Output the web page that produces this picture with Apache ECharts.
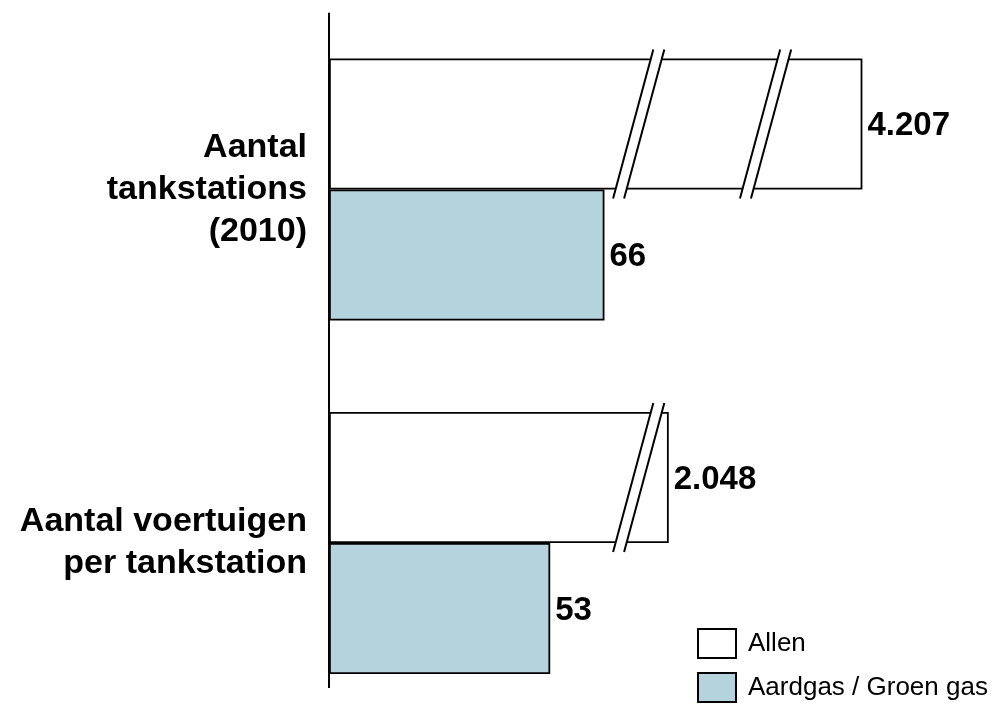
<!DOCTYPE html>
<html>
<head>
<meta charset="utf-8">
<title>Tankstations</title>
<script src="https://cdn.jsdelivr.net/npm/echarts@6/dist/echarts.min.js"></script>
<style>
  html, body { margin: 0; padding: 0; background: #fff; }
  #chart { width: 992px; height: 715px; }
</style>
</head>
<body>
<div id="chart"></div>
<script>
// Categories (top to bottom)
const categories = ['Aantal\ntankstations\n(2010)', 'Aantal voertuigen\nper tankstation'];
// Series
const seriesNames = ['Allen', 'Aardgas / Groen gas'];
const allenValues = [4207, 2048];
const aardgasValues = [66, 53];
// Value-axis breaks (the long bars are cut)
const axisBreaks = [
  { start: 73, end: 2042 },
  { start: 2070, end: 4185 }
];
const axisMax = 4217;

// Layout
const GRID_LEFT = 329;
const GRID_TOP = 12.75;
const GRID_HEIGHT = 707;
const PX_PER_UNIT = 4.174;
const BREAK_GAP_PX = 10;
const BAR_W = 131;
const AXIS_BOTTOM = 688;
const FONT = 'Liberation Sans, Arial, Helvetica, sans-serif';

// Slash marks across the broken bars
const SLASH_SLOPE = 0.27;
const SLASH_OVERHANG = 9;
const SLASH_SEP = 11;

const gapUnits = BREAK_GAP_PX / PX_PER_UNIT;
let spanUnits = axisMax;
axisBreaks.forEach(b => { spanUnits -= (b.end - b.start); spanUnits += gapUnits; });
const GRID_WIDTH = spanUnits * PX_PER_UNIT;

function fmt(v) {
  return String(v).replace(/\B(?=(\d{3})+(?!\d))/g, '.');
}

const chart = echarts.init(document.getElementById('chart'));

const valueLabel = {
  show: true,
  position: 'right',
  distance: 5,
  offset: [0, 2],
  fontSize: 33,
  fontWeight: 'bold',
  fontFamily: FONT,
  color: '#000',
  formatter: p => fmt(p.value)
};

chart.setOption({
  animation: false,
  backgroundColor: '#fff',
  grid: {
    left: GRID_LEFT, top: GRID_TOP, width: GRID_WIDTH, height: GRID_HEIGHT,
    outerBoundsMode: 'none'
  },
  legend: {
    orient: 'vertical',
    left: 697,
    top: 628,
    padding: 0,
    itemWidth: 38,
    itemHeight: 29,
    itemGap: 13,
    icon: 'rect',
    data: seriesNames,
    textStyle: { fontSize: 26, lineHeight: 29, fontFamily: FONT, color: '#000', padding: [0, 0, 0, 7] }
  },
  xAxis: {
    type: 'value',
    min: 0,
    max: axisMax,
    breaks: axisBreaks.map(b => ({ start: b.start, end: b.end, gap: gapUnits })),
    breakArea: { show: false },
    axisLine: { show: false },
    axisTick: { show: false },
    axisLabel: { show: false },
    splitLine: { show: false }
  },
  yAxis: {
    type: 'category',
    inverse: true,
    data: categories,
    axisLine: { show: false },
    axisTick: { show: false },
    axisLabel: {
      margin: 22,
      fontSize: 34,
      lineHeight: 42,
      fontWeight: 'bold',
      fontFamily: FONT,
      color: '#000'
    }
  },
  graphic: [{
    type: 'line',
    z: 100,
    shape: { x1: GRID_LEFT, y1: GRID_TOP, x2: GRID_LEFT, y2: AXIS_BOTTOM },
    style: { stroke: '#000', lineWidth: 2 }
  }],
  series: [
    {
      name: seriesNames[0],
      type: 'bar',
      barWidth: BAR_W,
      barGap: '0%',
      data: allenValues,
      itemStyle: { color: '#ffffff', borderColor: '#000', borderWidth: 1.8 },
      label: valueLabel
    },
    {
      name: seriesNames[1],
      type: 'bar',
      barWidth: BAR_W,
      barGap: '0%',
      data: aardgasValues,
      itemStyle: { color: '#b4d3dd', borderColor: '#000', borderWidth: 1.8 },
      label: valueLabel
    },
    {
      name: 'breaks',
      type: 'custom',
      z: 5,
      silent: true,
      data: allenValues.map((v, i) => [v, i]),
      encode: { x: 0, y: 1 },
      renderItem: (params, api) => {
        const val = api.value(0);
        const cat = api.value(1);
        const center = api.coord([0, cat]);
        const top = center[1] - BAR_W;
        const bottom = center[1];
        const yc = (top + bottom) / 2;
        const half = (bottom - top) / 2 + SLASH_OVERHANG;
        const dx = half * SLASH_SLOPE;
        const y1 = yc - half, y2 = yc + half;
        const children = [];
        axisBreaks.forEach(b => {
          if (val <= b.end) return;
          const xs = api.coord([b.start, cat])[0];
          const xe = api.coord([b.end, cat])[0];
          const xc = (xs + xe) / 2;
          const s = SLASH_SEP / 2;
          children.push({
            type: 'polygon',
            shape: { points: [[xc + dx - s, y1], [xc + dx + s, y1], [xc - dx + s, y2], [xc - dx - s, y2]] },
            style: { fill: '#fff' }
          });
          children.push({
            type: 'line',
            shape: { x1: xc + dx - s, y1: y1, x2: xc - dx - s, y2: y2 },
            style: { stroke: '#000', lineWidth: 2 }
          });
          children.push({
            type: 'line',
            shape: { x1: xc + dx + s, y1: y1, x2: xc - dx + s, y2: y2 },
            style: { stroke: '#000', lineWidth: 2 }
          });
        });
        return { type: 'group', children: children };
      }
    }
  ]
});
</script>
</body>
</html>
